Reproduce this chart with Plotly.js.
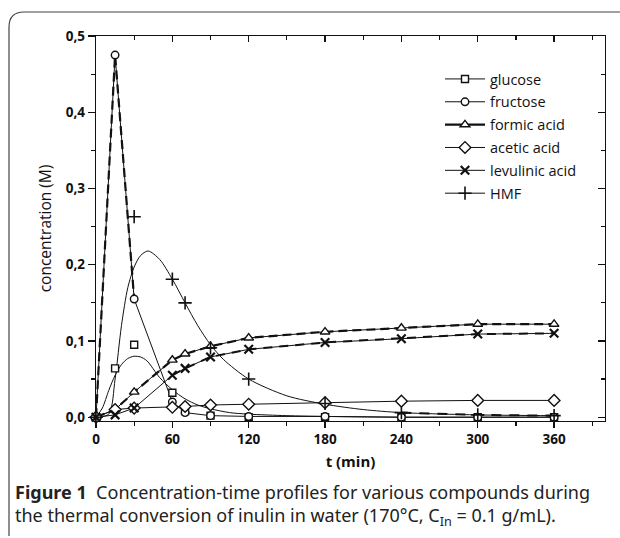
<!DOCTYPE html>
<html>
<head>
<meta charset="utf-8">
<script src="https://cdn.plot.ly/plotly-3.0.1.min.js"></script>
<style>html,body{margin:0;padding:0;background:#fff;}#chart{width:620px;height:538px;}</style>
</head>
<body>
<div id="chart"></div>
<script>
// ---- data ----
const time = [0, 15, 30, 60, 70, 90, 120, 180, 240, 300, 360];
const glucose = [0, 0.064, 0.095, 0.032, 0.008, 0.002, 0, 0, 0, 0, 0];
const fructose = [0, 0.475, 0.155, 0.02, 0.006, 0.002, 0.001, 0.001, 0, 0, 0];
const formicAcid = [0, 0.01, 0.033, 0.075, 0.083, 0.093, 0.104, 0.112, 0.117, 0.122, 0.122];
const aceticAcid = [0, 0.01, 0.012, 0.013, 0.014, 0.016, 0.017, 0.019, 0.021, 0.022, 0.022];
const levulinicAcid = [0, 0.003, 0.012, 0.055, 0.064, 0.079, 0.089, 0.098, 0.103, 0.109, 0.110];
const hmf = [0, null, 0.263, 0.181, 0.150, 0.091, 0.05, 0.018, 0.006, 0.003, 0.002];

// fitted model curves
const glucoseModelT = [0, 5, 10, 15, 20, 25, 30, 35, 40, 50, 60, 70, 80, 90, 105, 120, 150, 180, 240, 300, 360];
const glucoseModel = [0, 0.012, 0.035, 0.055, 0.069, 0.077, 0.08, 0.079, 0.074, 0.052, 0.036, 0.024, 0.016, 0.011, 0.006, 0.004, 0.002, 0.001, 0, 0, 0];
const hmfModelT = [0, 10, 15, 20, 25, 30, 35, 41, 50, 60, 70, 80, 90, 100, 120, 150, 180, 210, 240, 300, 360];
const hmfModel = [0, 0.004, 0.05, 0.12, 0.17, 0.197, 0.212, 0.218, 0.207, 0.181, 0.15, 0.12, 0.095, 0.076, 0.05, 0.028, 0.017, 0.01, 0.006, 0.003, 0.002];

const seriesNames = ['glucose', 'fructose', 'formic acid', 'acetic acid', 'levulinic acid', 'HMF'];
const xTitle = 't (min)';
const yTitle = 'concentration (M)';
const captionLine1 = '<b>Figure 1</b>  Concentration-time profiles for various compounds during';
const captionLine2 = 'the thermal conversion of inulin in water (170°C, C<sub>In</sub> = 0.1 g/mL).';

// ---- styles ----
const K = '#111';
const thin = {color: K, width: 1};
const dashed = {color: K, width: 2.2, dash: '9px,5px'};
const symbols = [
  {symbol: 'square', size: 7, color: '#fff', line: {color: K, width: 1.4}},
  {symbol: 'circle', size: 7.5, color: '#fff', line: {color: K, width: 1.4}},
  {symbol: 'triangle-up', size: 8.5, color: '#fff', line: {color: K, width: 1.4}},
  {symbol: 'diamond', size: 9, color: '#fff', line: {color: K, width: 1.4}},
  {symbol: 'x-thin-open', size: 8.5, color: K, line: {color: K, width: 2.2}},
  {symbol: 'cross-thin-open', size: 9.5, color: K, line: {color: K, width: 1.6}}
];
const legendLines = [thin, thin, {color: K, width: 2.4, dash: 'solid'}, thin, thin, thin];
const dataSets = [glucose, fructose, formicAcid, aceticAcid, levulinicAcid, hmf];

const traces = [];
// lines
traces.push({x: glucoseModelT, y: glucoseModel, mode: 'lines', line: Object.assign({shape: 'spline', smoothing: 0.8}, thin), showlegend: false, hoverinfo: 'skip'});
traces.push({x: hmfModelT, y: hmfModel, mode: 'lines', line: Object.assign({shape: 'spline', smoothing: 0.8}, thin), showlegend: false, hoverinfo: 'skip'});
traces.push({x: time, y: fructose, mode: 'lines', line: thin, showlegend: false, hoverinfo: 'skip'});
traces.push({x: time.slice(0, 3), y: fructose.slice(0, 3), mode: 'lines', line: dashed, showlegend: false, hoverinfo: 'skip'});
traces.push({x: time, y: formicAcid, mode: 'lines', line: thin, showlegend: false, hoverinfo: 'skip'});
traces.push({x: time, y: formicAcid, mode: 'lines', line: dashed, showlegend: false, hoverinfo: 'skip'});
traces.push({x: time, y: levulinicAcid, mode: 'lines', line: thin, showlegend: false, hoverinfo: 'skip'});
traces.push({x: time.slice(3), y: levulinicAcid.slice(3), mode: 'lines', line: {color: K, width: 2, dash: '9px,7px'}, showlegend: false, hoverinfo: 'skip'});
traces.push({x: time, y: aceticAcid, mode: 'lines', line: thin, showlegend: false, hoverinfo: 'skip'});
traces.push({x: time.slice(8), y: hmf.slice(8), mode: 'lines', line: {color: K, width: 2, dash: '10px,8px'}, showlegend: false, hoverinfo: 'skip'});
// markers
dataSets.forEach(function (ys, i) {
  traces.push({x: time, y: ys, mode: 'markers', marker: symbols[i], showlegend: false, hoverinfo: 'skip', cliponaxis: false});
});
// legend entries
seriesNames.forEach(function (name, i) {
  traces.push({x: [null], y: [null], name: name, mode: 'lines+markers', line: legendLines[i], marker: symbols[i], legendgroup: 'g' + i, showlegend: true});
});
// frame axes (top/right)
traces.push({x: [null], y: [null], xaxis: 'x2', yaxis: 'y2', showlegend: false, hoverinfo: 'skip', mode: 'markers'});

const tickFont = {family: 'Open Sans, sans-serif', size: 13.5, color: K, weight: 'bold'};
const axisCommon = {showgrid: false, zeroline: false, showline: true, linecolor: K, linewidth: 1.2, tickcolor: K, tickwidth: 1.2};

// pixel helpers for paper coords (plot area 96..605 x, 36..421 y)
const L = 96, R = 605, T = 36, B = 421;
const px = function (v) { return (v - L) / (R - L); };
const py = function (v) { return (B - v) / (B - T); };

const layout = {
  width: 620, height: 538,
  margin: {l: L, r: 620 - R, t: T, b: 538 - B, pad: 0},
  paper_bgcolor: '#fff', plot_bgcolor: '#fff',
  separators: ',.',
  font: {family: 'Open Sans, sans-serif', color: K},
  xaxis: Object.assign({}, axisCommon, {
    range: [0, 400], tick0: 0, dtick: 60, ticks: 'outside', ticklen: 6,
    minor: {dtick: 30, ticks: 'outside', ticklen: 3.5, tickcolor: K, tickwidth: 1.2},
    tickfont: tickFont,
    title: {text: xTitle, font: {family: 'Open Sans, sans-serif', size: 15, weight: 'bold', color: K}, standoff: 9}
  }),
  yaxis: Object.assign({}, axisCommon, {
    range: [-0.005, 0.5], tick0: 0, dtick: 0.1, tickformat: '.1f', ticks: 'outside', ticklen: 7,
    minor: {dtick: 0.05, ticks: 'outside', ticklen: 4, tickcolor: K, tickwidth: 1.2},
    tickfont: tickFont,
    title: {text: yTitle, font: {family: 'Open Sans, sans-serif', size: 15.5, color: K}, standoff: 10}
  }),
  xaxis2: Object.assign({}, axisCommon, {
    overlaying: 'x', side: 'top', range: [0, 400], tick0: 0, dtick: 60, ticks: 'inside', ticklen: 6,
    minor: {dtick: 30, ticks: 'inside', ticklen: 3.5, tickcolor: K, tickwidth: 1.2},
    showticklabels: false
  }),
  yaxis2: Object.assign({}, axisCommon, {
    overlaying: 'y', side: 'right', range: [-0.005, 0.5], tick0: 0, dtick: 0.1, ticks: 'inside', ticklen: 7,
    minor: {dtick: 0.05, ticks: 'inside', ticklen: 4, tickcolor: K, tickwidth: 1.2},
    showticklabels: false
  }),
  showlegend: true,
  legend: {
    x: px(440), y: py(63), xanchor: 'left', yanchor: 'top',
    bgcolor: 'rgba(0,0,0,0)', borderwidth: 0,
    font: {family: 'Open Sans, sans-serif', size: 14.5, color: K},
    tracegroupgap: 1, itemwidth: 40, traceorder: 'grouped'
  },
  shapes: [{
    type: 'path', xref: 'paper', yref: 'paper',
    path: 'M ' + px(9) + ',' + py(536) + ' L ' + px(9) + ',' + py(27) +
          ' Q ' + px(9) + ',' + py(12) + ' ' + px(24) + ',' + py(12) +
          ' L ' + px(630) + ',' + py(12),
    line: {color: '#444', width: 1.2}
  }],
  annotations: [
    {xref: 'paper', yref: 'paper', x: px(13), y: py(492), xanchor: 'left', yanchor: 'middle', showarrow: false,
     text: captionLine1, font: {family: 'Noto Sans, sans-serif', size: 18, color: '#222'}},
    {xref: 'paper', yref: 'paper', x: px(13), y: py(516), xanchor: 'left', yanchor: 'middle', showarrow: false,
     text: captionLine2, font: {family: 'Noto Sans, sans-serif', size: 18, color: '#222'}}
  ]
};

Plotly.newPlot('chart', traces, layout, {staticPlot: true, displayModeBar: false});
</script>
</body>
</html>
